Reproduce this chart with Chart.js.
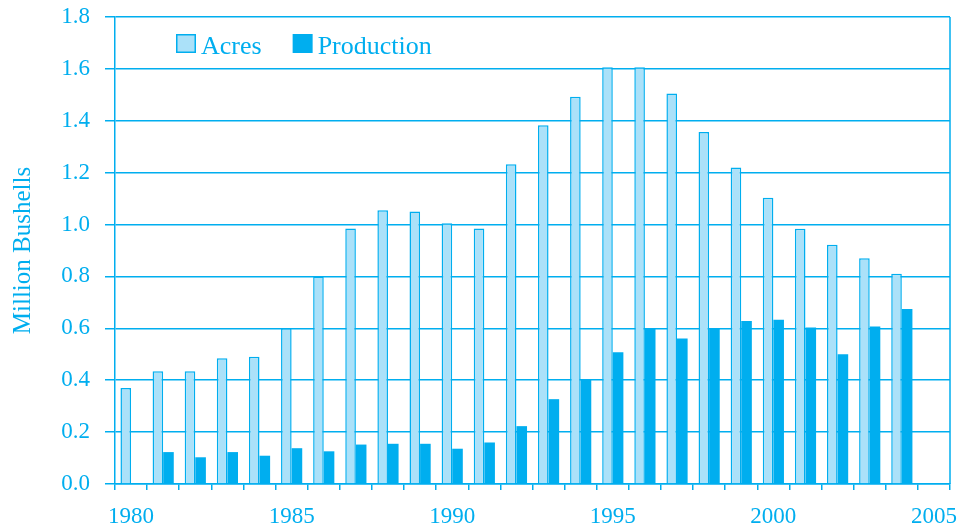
<!DOCTYPE html>
<html>
<head>
<meta charset="utf-8">
<script src="https://cdn.jsdelivr.net/npm/chart.js@4"></script>
<style>
  body { margin: 0; background: #fff; }
  #wrap { width: 962px; height: 525px; }
</style>
</head>
<body>
<div id="wrap"><canvas id="wheatChart" width="962" height="525"></canvas></div>
<script>
// years on the x axis (2005 is an empty slot at the end)
const years = [1980, 1981, 1982, 1983, 1984, 1985, 1986, 1987, 1988, 1989,
  1990, 1991, 1992, 1993, 1994, 1995, 1996, 1997, 1998, 1999,
  2000, 2001, 2002, 2003, 2004, 2005];

const acres = [0.37, 0.435, 0.435, 0.485, 0.49, 0.60, 0.80, 0.985, 1.055, 1.05,
  1.005, 0.985, 1.232, 1.383, 1.493, 1.606, 1.606, 1.505, 1.357, 1.22,
  1.103, 0.984, 0.922, 0.87, 0.81, null];

const production = [null, 0.123, 0.103, 0.123, 0.109, 0.138, 0.126, 0.152, 0.155, 0.155,
  0.136, 0.16, 0.223, 0.327, 0.403, 0.508, 0.60, 0.561, 0.60, 0.628,
  0.633, 0.603, 0.50, 0.607, 0.675, null];

const yTicks = [0, 0.2, 0.4, 0.6, 0.8, 1.0, 1.2, 1.4, 1.6, 1.8];

const blue = '#00aeef';
const lightBlue = '#abe1f9';
const textFont = 'Liberation Serif';

// legend drawn inside the plot, top left
const insideLegend = {
  id: 'insideLegend',
  afterDraw(chart) {
    const ctx = chart.ctx;
    ctx.save();
    ctx.font = '26px "' + textFont + '"';
    ctx.textBaseline = 'alphabetic';
    let x = 176;
    chart.data.datasets.forEach(ds => {
      ctx.fillStyle = ds.backgroundColor;
      ctx.fillRect(x, 34, 20, 19);
      if (ds.borderWidth) {
        ctx.strokeStyle = ds.borderColor;
        ctx.lineWidth = 1.5;
        ctx.strokeRect(x + 0.75, 34.75, 18.5, 17.5);
      }
      ctx.fillStyle = blue;
      ctx.fillText(ds.label, x + 25, 54);
      x += 25 + ctx.measureText(ds.label).width + 31;
    });
    ctx.restore();
  }
};

// right edge of the frame
const frame = {
  id: 'frame',
  afterDatasetsDraw(chart) {
    const a = chart.chartArea;
    const ctx = chart.ctx;
    ctx.save();
    ctx.strokeStyle = blue;
    ctx.lineWidth = 1.5;
    ctx.beginPath();
    ctx.moveTo(a.right, a.top);
    ctx.lineTo(a.right, a.bottom);
    ctx.stroke();
    ctx.restore();
  }
};

const ctx = document.getElementById('wheatChart').getContext('2d');
new Chart(ctx, {
  type: 'bar',
  data: {
    labels: years,
    datasets: [{
      label: 'Acres',
      data: acres,
      backgroundColor: lightBlue,
      borderColor: blue,
      borderWidth: 1.5,
      categoryPercentage: 0.66,
      barPercentage: 1.0
    }, {
      label: 'Production',
      data: production,
      backgroundColor: blue,
      borderWidth: 0,
      categoryPercentage: 0.66,
      barPercentage: 1.0
    }]
  },
  options: {
    responsive: false,
    animation: false,
    layout: { padding: { top: 17, right: 12, left: 0, bottom: 0 } },
    plugins: {
      legend: { display: false },
      tooltip: { enabled: false }
    },
    scales: {
      x: {
        afterFit(scale) {
          scale.height = 41;
          scale.paddingLeft = 0;
          scale.paddingRight = 0;
        },
        grid: {
          offset: true,
          drawOnChartArea: false,
          color: blue,
          lineWidth: 1.5,
          tickLength: 6
        },
        border: { color: blue, width: 1.5 },
        ticks: {
          autoSkip: false,
          maxRotation: 0,
          padding: 13,
          color: blue,
          font: { family: textFont, size: 23 },
          callback(value, index) {
            const yr = years[index];
            return yr % 5 === 0 ? String(yr) : '';
          }
        }
      },
      y: {
        min: 0,
        max: 1.8,
        afterFit(scale) {
          scale.width = 115;
          scale.paddingTop = 0;
          scale.paddingBottom = 0;
        },
        afterBuildTicks(scale) { scale.ticks = yTicks.map(v => ({ value: v })); },
        grid: { color: blue, lineWidth: 1.5, tickLength: 10 },
        border: { color: blue, width: 1.5 },
        ticks: {
          padding: 15,
          color: blue,
          font: { family: textFont, size: 23 },
          callback: v => v.toFixed(1)
        },
        title: {
          display: true,
          text: 'Million Bushells',
          color: blue,
          padding: { top: 8, bottom: 0 },
          font: { family: textFont, size: 25 }
        }
      }
    }
  },
  plugins: [insideLegend, frame]
});
</script>
</body>
</html>
